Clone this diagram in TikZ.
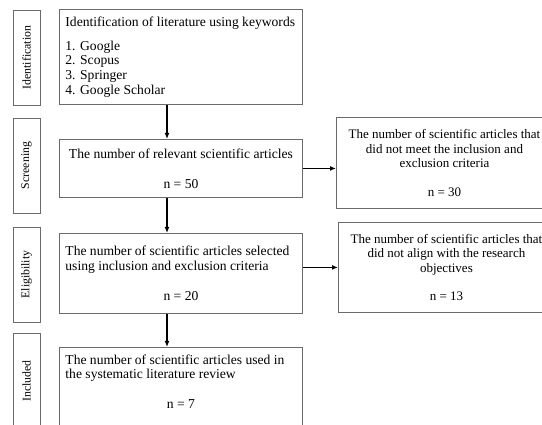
\documentclass[tikz,border=0pt]{standalone}
\usepackage{fontspec}
\setmainfont{Liberation Serif}
\usepackage{xcolor}
\usetikzlibrary{arrows.meta,positioning}
\definecolor{boxgray}{HTML}{6A6A6A}

\begin{document}
\begin{tikzpicture}[x=1pt,y=-1pt,font=\fontsize{13.6}{14.7}\selectfont,
  mainbox/.style={draw=boxgray,line width=0.9pt,anchor=north west,text width=231pt,inner xsep=6pt,minimum width=243pt,align=flush center},
  rejectbox/.style={draw=boxgray,line width=0.9pt,anchor=north west,text width=212pt,inner xsep=2pt,align=flush center,minimum width=216pt,font=\fontsize{13}{14.5}\selectfont},
  stagebox/.style={draw=boxgray,line width=0.9pt,rotate=90,minimum width=95pt,minimum height=27pt,inner sep=0pt,font=\fontsize{11.8}{14}\selectfont},
  flowarrow/.style={-{Latex[length=6pt,width=5pt]},line width=1.4pt}]
\path[use as bounding box] (0,0) rectangle (542,425);
\clip (0,0) rectangle (542,425);
% stage labels on the left
\node[stagebox] (stageident) at (26.5,57.5) {Identification};
\node[stagebox] (stagescreen) at (26.5,165.5) {Screening};
\node[stagebox] (stageelig) at (26.5,274.5) {Eligibility};
\node[stagebox] (stageincl) at (26.5,381) {Included};
% main flow
\node[mainbox,minimum height=95pt,align=flush left] (ident) at (59,9)
  {Identification of literature using keywords\\[9pt]1. Google\\2. Scopus\\3. Springer\\4. Google Scholar};
\node[mainbox,minimum height=58pt] (screen) at (59,139)
  {The number of relevant scientific articles\\[15pt]n = 50};
\node[mainbox,minimum height=80pt] (elig) at (59,233)
  {\makebox[\linewidth][l]{The number of scientific articles selected}\\
   \makebox[\linewidth][l]{using inclusion and exclusion criteria}\\[15pt]n = 20};
\node[mainbox,minimum height=100pt] (incl) at (59,347)
  {\makebox[\linewidth][l]{The number of scientific articles used in}\\
   \makebox[\linewidth][l]{the systematic literature review}\\[15pt]n = 7\rule[-32pt]{0pt}{1pt}};
% excluded records
\node[rejectbox,minimum height=91pt] (rejscreen) at (336,117)
  {The number of scientific articles that\\did not meet the inclusion and\\exclusion criteria\\[14pt]n = 30};
\node[rejectbox,minimum height=90pt] (rejelig) at (338,222)
  {The number of scientific articles that\\did not align with the research\\objectives\\[14pt]n = 13};
% connectors
\coordinate (spine) at (167,0);
\draw[flowarrow] (ident.south -| spine) -- (screen.north -| spine);
\draw[flowarrow] (screen.south -| spine) -- (elig.north -| spine);
\draw[flowarrow] (elig.south -| spine) -- (incl.north -| spine);
\draw[flowarrow] (screen.east) -- (screen.east -| rejscreen.west);
\draw[flowarrow] (rejelig.west -| elig.east) -- (rejelig.west);
\end{tikzpicture}
\end{document}
